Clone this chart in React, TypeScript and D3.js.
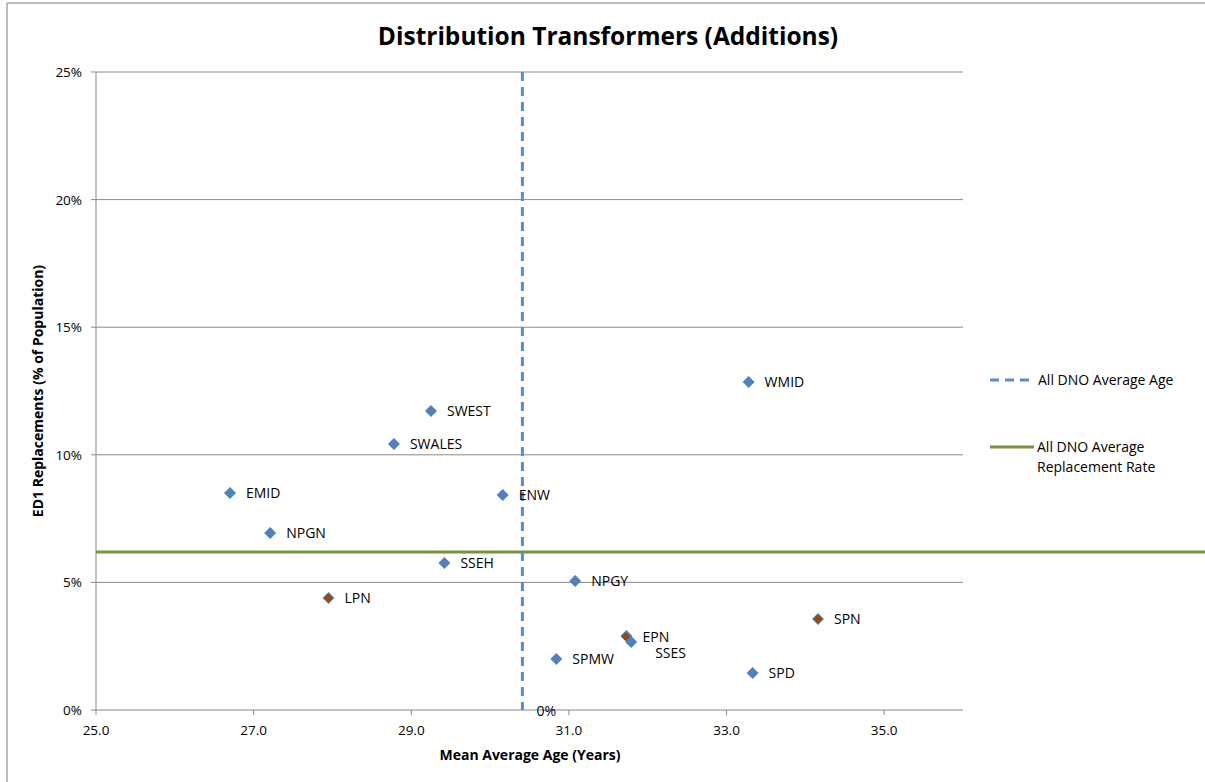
import * as d3 from "d3";

const names = ["WMID", "SWEST", "SWALES", "EMID", "ENW", "NPGN", "SSEH", "NPGY", "LPN", "SPN", "EPN", "SSES", "SPMW", "SPD"];
const ages = [33.28, 29.25, 28.78, 26.7, 30.16, 27.21, 29.42, 31.08, 27.95, 34.16, 31.73, 31.79, 30.84, 33.33];
const rates = [0.1285, 0.1172, 0.1042, 0.085, 0.0842, 0.0694, 0.0576, 0.0505, 0.0439, 0.0357, 0.029, 0.0266, 0.02, 0.0145];
// second series drawn in brown on top of a few points
const brownNames = ["LPN", "SPN", "EPN"];
const brownAges = [27.95, 34.16, 31.72];
const brownRates = [0.0439, 0.0357, 0.0288];

const avgAge = 30.41;
const avgRate = 0.0619;

const xTicks = [25, 27, 29, 31, 33, 35];
const yTicks = [0, 0.05, 0.1, 0.15, 0.2, 0.25];

const W = 1205;
const H = 782;
const font = "'Open Sans', 'Noto Sans', sans-serif";

export default function App() {
  const x = d3.scaleLinear().domain([25, 36]).range([96, 963]);
  const y = d3.scaleLinear().domain([0, 0.25]).range([710, 72]);
  const pct = d3.format(".0%");
  const diamond = (cx: number, cy: number, r: number) =>
    `M${cx},${cy - r}L${cx + r},${cy}L${cx},${cy + r}L${cx - r},${cy}Z`;

  return (
    <svg width={W} height={H} style={{ position: "absolute", left: 0, top: 0, background: "#fff" }} fontFamily={font}>
      {/* frame */}
      <line x1={7} x2={W} y1={3} y2={3} stroke="#a6a6a6" strokeWidth={1.5} />
      <line x1={7} x2={7} y1={3} y2={H} stroke="#a6a6a6" strokeWidth={1.5} />

      <text x={608} y={45} textAnchor="middle" fontSize={24.5} fontWeight="bold" fill="#000">
        Distribution Transformers (Additions)
      </text>

      {/* grid */}
      {yTicks.map((t) => (
        <g key={t}>
          <line x1={x(25)} x2={x(36)} y1={y(t)} y2={y(t)} stroke="#898989" strokeWidth={1} />
          <line x1={x(25) - 5} x2={x(25)} y1={y(t)} y2={y(t)} stroke="#898989" />
          <text x={82} y={y(t) + 5} textAnchor="end" fontSize={13.5} fill="#000">
            {pct(t)}
          </text>
        </g>
      ))}
      <line x1={x(25)} x2={x(25)} y1={y(0.25)} y2={y(0)} stroke="#898989" />
      {xTicks.map((t) => (
        <g key={t}>
          <line x1={x(t)} x2={x(t)} y1={y(0)} y2={y(0) + 5} stroke="#898989" />
          <text x={x(t)} y={735} textAnchor="middle" fontSize={13.5} fill="#000">
            {t.toFixed(1)}
          </text>
        </g>
      ))}

      {/* axis titles */}
      <text
        transform={`translate(43,${y(0.125)}) rotate(-90)`}
        textAnchor="middle"
        fontSize={14}
        fontWeight="bold"
        fill="#000"
      >
        ED1 Replacements (% of Population)
      </text>
      <text x={530} y={760} textAnchor="middle" fontSize={14} fontWeight="bold" fill="#000">
        Mean Average Age (Years)
      </text>

      {/* reference lines */}
      <line x1={x(25)} x2={W} y1={y(avgRate)} y2={y(avgRate)} stroke="#77933c" strokeWidth={3} />
      <line
        x1={x(avgAge)}
        x2={x(avgAge)}
        y1={y(0.25)}
        y2={y(0)}
        stroke="#558ed5"
        strokeWidth={3}
        strokeDasharray="9,6"
      />
      <text x={x(avgAge) + 14} y={y(0) + 6} fontSize={14} fill="#000">
        {pct(0)}
      </text>

      {/* points */}
      {names.map((n, i) => (
        <path key={n} d={diamond(x(ages[i]), y(rates[i]), 6)} fill="#4f81bd" />
      ))}
      {brownNames.map((n, i) => (
        <path key={n} d={diamond(x(brownAges[i]), y(brownRates[i]), 4.5)} fill="#984807" />
      ))}
      {names.map((n, i) => {
        const dx = n === "SSES" ? 24 : 16;
        const dy = n === "SSES" ? 16 : n === "EPN" ? 6 : 5;
        return (
          <text key={n} x={x(ages[i]) + dx} y={y(rates[i]) + dy} fontSize={14} fill="#000">
            {n}
          </text>
        );
      })}

      {/* legend */}
      <line x1={990} x2={1030} y1={380} y2={380} stroke="#558ed5" strokeWidth={3} strokeDasharray="9,6" />
      <text x={1038} y={385} fontSize={14} fill="#000">
        All DNO Average Age
      </text>
      <line x1={990} x2={1034} y1={447} y2={447} stroke="#77933c" strokeWidth={3} />
      <text x={1037} y={452} fontSize={14} fill="#000">
        All DNO Average
      </text>
      <text x={1037} y={472} fontSize={14} fill="#000">
        Replacement Rate
      </text>
    </svg>
  );
}
